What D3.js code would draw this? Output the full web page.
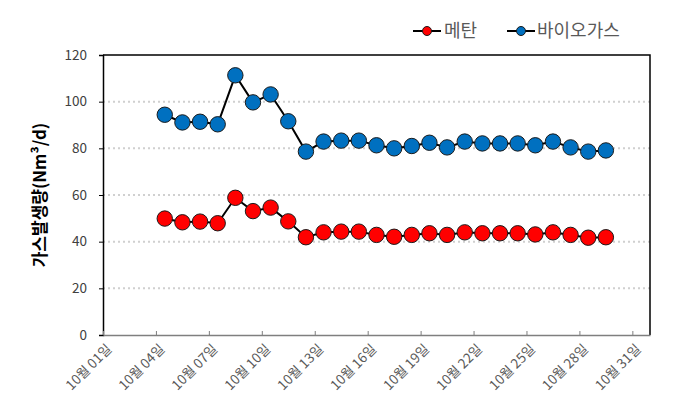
<!DOCTYPE html>
<html><head><meta charset="utf-8">
<script src="https://cdn.jsdelivr.net/npm/d3@7"></script>
<style>
body{margin:0;background:#fff;}
svg{font-family:"Noto Sans CJK KR","Noto Sans",sans-serif;}
</style></head>
<body><svg id="c" width="679" height="409"></svg>
<script>
const days = [4.5,5.5,6.5,7.5,8.5,9.5,10.5,11.5,12.5,13.5,14.5,15.5,16.5,17.5,18.5,19.5,20.5,21.5,22.5,23.5,24.5,25.5,26.5,27.5,28.5,29.5];
const methane = [49.9,48.3,48.6,47.9,58.8,53.1,54.6,48.7,41.9,44.0,44.3,44.3,42.9,42.1,42.9,43.6,42.9,44.0,43.6,43.6,43.6,43.1,44.0,42.9,41.7,41.9];
const biogas = [94.4,91.1,91.4,90.3,111.3,99.7,103.1,91.6,78.6,82.9,83.3,83.3,81.3,80.0,81.0,82.4,80.4,82.9,82.1,82.1,82.1,81.3,82.9,80.4,78.6,79.1];
const xTicks = [1,4,7,10,13,16,19,22,25,28,31];
const xTickLabels = ["10월 01일","10월 04일","10월 07일","10월 10일","10월 13일","10월 16일","10월 19일","10월 22일","10월 25일","10월 28일","10월 31일"];
const yTicks = [0,20,40,60,80,100,120];
const seriesNames = ["메탄","바이오가스"];
const seriesColors = ["#FF0000","#0070C0"];

const svg = d3.select("#c");
const L=103, R=650, T=55, B=335;
const x = d3.scaleLinear().domain([1,32]).range([L,R]);
const y = d3.scaleLinear().domain([0,120]).range([B,T]);

// gridlines
svg.append("g").selectAll("line").data(yTicks.filter(d=>d>0&&d<120)).join("line")
  .attr("x1",L).attr("x2",R).attr("y1",d=>y(d)).attr("y2",d=>y(d))
  .attr("stroke","#d0d0d0").attr("stroke-width",2).attr("stroke-dasharray","2,3");

// border top/right
svg.append("path").attr("d",`M${L},${T}H${R}V${B}`).attr("fill","none").attr("stroke","#000").attr("stroke-width",1.5);

// y axis
const ya = svg.append("g").attr("transform",`translate(${L},0)`)
  .call(d3.axisLeft(y).tickValues(yTicks).tickSize(4).tickPadding(12));
ya.attr("font-family",null);
ya.select(".domain").attr("stroke","#000").attr("stroke-width",1.5);
ya.selectAll(".tick line").attr("stroke","#000");
ya.selectAll("text").attr("font-size",13.5).attr("fill","#404040");

// x axis
const xa = svg.append("g").attr("transform",`translate(0,${B})`)
  .call(d3.axisBottom(x).tickValues(xTicks).tickFormat((d,i)=>xTickLabels[i]).tickSizeInner(-4).tickSizeOuter(0));
xa.attr("font-family",null);
xa.select(".domain").attr("stroke","#7f7f7f").attr("stroke-width",1.5);
xa.selectAll(".tick line").attr("stroke","#7f7f7f");
xa.selectAll("text").attr("font-size",13.5).attr("fill","#595959")
  .attr("text-anchor","end").attr("dy",0)
  .attr("transform","translate(9,15) rotate(-45)").attr("y",0).attr("x",0);

// y label
svg.append("text").attr("transform",`translate(46,${(T+B)/2}) rotate(-90)`)
  .attr("text-anchor","middle").attr("font-size",17).attr("font-weight","bold").attr("fill","#000")
  .text("가스발생량(Nm³/d)");

const line = d3.line().x((d,i)=>x(days[i])).y(d=>y(d));
[methane,biogas].forEach((s,k)=>{
  svg.append("path").datum(s).attr("d",line).attr("fill","none").attr("stroke","#000").attr("stroke-width",2);
  svg.append("g").selectAll("circle").data(s).join("circle")
    .attr("cx",(d,i)=>x(days[i])).attr("cy",d=>y(d)).attr("r",7.7)
    .attr("fill",seriesColors[k]).attr("stroke","#1a1a1a").attr("stroke-width",1);
});

// legend
const lg = [{x0:413,tx:444},{x0:507,tx:537}];
seriesNames.forEach((n,k)=>{
  const g = svg.append("g");
  g.append("line").attr("x1",lg[k].x0).attr("x2",lg[k].x0+28).attr("y1",31).attr("y2",31).attr("stroke","#000").attr("stroke-width",2);
  g.append("circle").attr("cx",lg[k].x0+14).attr("cy",31).attr("r",4.5).attr("fill",seriesColors[k]).attr("stroke","#1a1a1a").attr("stroke-width",1);
  g.append("text").attr("x",lg[k].tx).attr("y",31).attr("dy","0.36em").attr("font-size",18).attr("fill","#595959").text(n);
});
</script></body></html>
